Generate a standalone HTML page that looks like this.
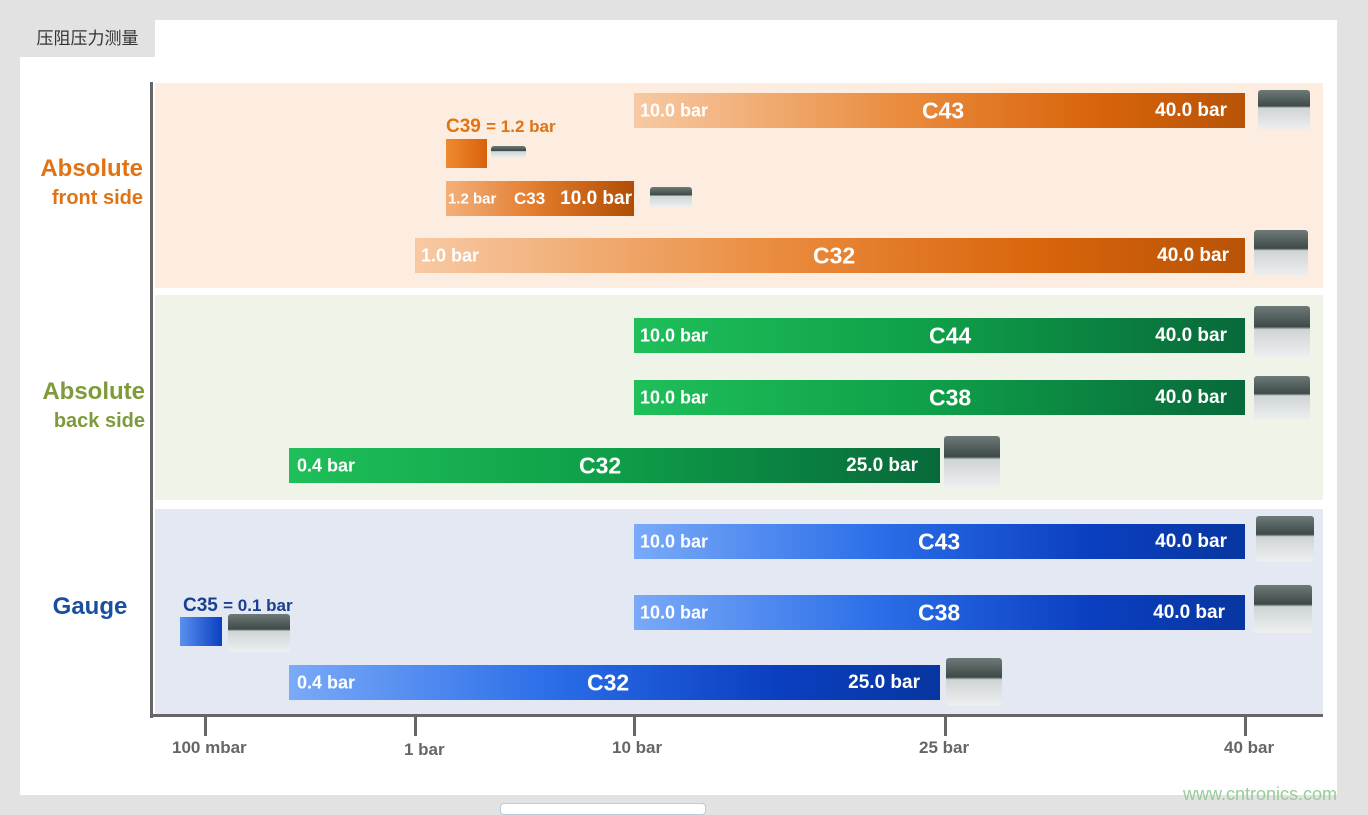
<!DOCTYPE html>
<html><head><meta charset="utf-8"><style>
body{margin:0;width:1368px;height:810px;background:#e2e2e2;position:relative;overflow:hidden;font-family:"Liberation Sans","Noto Sans CJK SC",sans-serif}
.a{position:absolute}
.bar{position:absolute;color:#fff;font-weight:bold;font-size:18px}
.bar span{position:absolute;top:50%;transform:translateY(-50%);white-space:nowrap}
.o{background:linear-gradient(90deg,#f7c9a3,#e98a3c 45%,#d9650c 75%,#b85306)}
.g{background:linear-gradient(90deg,#1fbf5a,#0e9e48 50%,#08693a)}
.b{background:linear-gradient(90deg,#7aaaf8,#2b6ee8 40%,#0a3fc0 75%,#0836a0)}
.chip{position:absolute;background:linear-gradient(#6e7a78,#3e4a48 40%,#cfd4d4 45%,#eef0f0);border-radius:3px}
.big{font-size:23px}
.tick{position:absolute;top:716px;width:3px;height:20px;background:#666}
.tl{position:absolute;top:738px;font-size:17px;font-weight:bold;color:#666}
</style></head><body>
<div class="a" style="left:20px;top:20px;width:1317px;height:775px;background:#fff"></div>
<div class="a" style="left:20px;top:20px;width:135px;height:37px;background:#e2e2e2;font-size:17px;color:#333;line-height:37px;text-align:center">压阻压力测量</div>
<div class="a" style="left:155px;top:83px;width:1168px;height:205px;background:#fdece0"></div>
<div class="a" style="left:155px;top:295px;width:1168px;height:205px;background:#f0f3e8"></div>
<div class="a" style="left:155px;top:509px;width:1168px;height:205px;background:#e4e8f3"></div>
<div class="a" style="left:150px;top:82px;width:3px;height:636px;background:#666"></div>
<div class="a" style="left:150px;top:714px;width:1173px;height:3px;background:#666"></div>
<div class="a" style="left:20px;top:155px;width:123px;text-align:right;color:#e07414;font-weight:bold;font-size:24px;line-height:28px">Absolute<br><span style="font-size:20px">front side</span></div>
<div class="a" style="left:20px;top:378px;width:125px;text-align:right;color:#7f9a3a;font-weight:bold;font-size:24px;line-height:28px">Absolute<br><span style="font-size:20px">back side</span></div>
<div class="a" style="left:35px;top:593px;width:110px;text-align:center;color:#1a4fa0;font-weight:bold;font-size:24px">Gauge</div>

<div class="bar o" style="left:634px;top:93px;width:611px;height:35px"><span style="left:6px">10.0 bar</span><span class="big" style="left:288px">C43</span><span style="right:18px;font-size:19px">40.0 bar</span></div>
<div class="a" style="left:446px;top:116px;color:#e07414;font-weight:bold;font-size:19px">C39 <span style="font-size:17px">= 1.2 bar</span></div>
<div class="a" style="left:446px;top:139px;width:41px;height:29px;background:linear-gradient(90deg,#f08a30,#d8620c)"></div>
<div class="chip" style="left:491px;top:146px;width:35px;height:12px"></div>
<div class="bar o" style="left:446px;top:181px;width:188px;height:35px;background:linear-gradient(90deg,#f4b07a,#e07a2a 50%,#b04e06)"><span style="left:2px;font-size:15px">1.2 bar</span><span style="left:68px;font-size:17px">C33</span><span style="right:2px;font-size:19px">10.0 bar</span></div>
<div class="chip" style="left:650px;top:187px;width:42px;height:20px"></div>
<div class="bar o" style="left:415px;top:238px;width:830px;height:35px"><span style="left:6px">1.0 bar</span><span class="big" style="left:398px">C32</span><span style="right:16px;font-size:19px">40.0 bar</span></div>
<div class="chip" style="left:1258px;top:90px;width:52px;height:40px"></div>
<div class="chip" style="left:1254px;top:230px;width:54px;height:46px"></div>

<div class="bar g" style="left:634px;top:318px;width:611px;height:35px"><span style="left:6px">10.0 bar</span><span class="big" style="left:295px">C44</span><span style="right:18px;font-size:19px">40.0 bar</span></div>
<div class="bar g" style="left:634px;top:380px;width:611px;height:35px"><span style="left:6px">10.0 bar</span><span class="big" style="left:295px">C38</span><span style="right:18px;font-size:19px">40.0 bar</span></div>
<div class="bar g" style="left:289px;top:448px;width:651px;height:35px"><span style="left:8px">0.4 bar</span><span class="big" style="left:290px">C32</span><span style="right:22px;font-size:19px">25.0 bar</span></div>
<div class="chip" style="left:1254px;top:306px;width:56px;height:52px"></div>
<div class="chip" style="left:1254px;top:376px;width:56px;height:44px"></div>
<div class="chip" style="left:944px;top:436px;width:56px;height:52px"></div>

<div class="bar b" style="left:634px;top:524px;width:611px;height:35px"><span style="left:6px">10.0 bar</span><span class="big" style="left:284px">C43</span><span style="right:18px;font-size:19px">40.0 bar</span></div>
<div class="bar b" style="left:634px;top:595px;width:611px;height:35px"><span style="left:6px">10.0 bar</span><span class="big" style="left:284px">C38</span><span style="right:20px;font-size:19px">40.0 bar</span></div>
<div class="a" style="left:183px;top:595px;color:#1a3f8f;font-weight:bold;font-size:19px">C35 <span style="font-size:17px">= 0.1 bar</span></div>
<div class="a" style="left:180px;top:617px;width:42px;height:29px;background:linear-gradient(90deg,#5a90f0,#0a3fc0)"></div>
<div class="chip" style="left:228px;top:614px;width:62px;height:38px"></div>
<div class="bar b" style="left:289px;top:665px;width:651px;height:35px"><span style="left:8px">0.4 bar</span><span class="big" style="left:298px">C32</span><span style="right:20px;font-size:19px">25.0 bar</span></div>
<div class="chip" style="left:1256px;top:516px;width:58px;height:46px"></div>
<div class="chip" style="left:1254px;top:585px;width:58px;height:48px"></div>
<div class="chip" style="left:946px;top:658px;width:56px;height:48px"></div>

<div class="tick" style="left:204px"></div><div class="tick" style="left:414px"></div><div class="tick" style="left:633px"></div><div class="tick" style="left:944px"></div><div class="tick" style="left:1244px"></div>
<div class="tl" style="left:172px">100 mbar</div>
<div class="tl" style="left:404px;top:740px">1 bar</div>
<div class="tl" style="left:612px">10 bar</div>
<div class="tl" style="left:919px">25 bar</div>
<div class="tl" style="left:1224px">40 bar</div>
<div class="a" style="left:500px;top:803px;width:204px;height:10px;border:1px solid #bcd;border-radius:4px;background:#fff"></div>
<div class="a" style="left:1183px;top:784px;color:#9c9;font-size:18px">www.cntronics.com</div>
</body></html>
